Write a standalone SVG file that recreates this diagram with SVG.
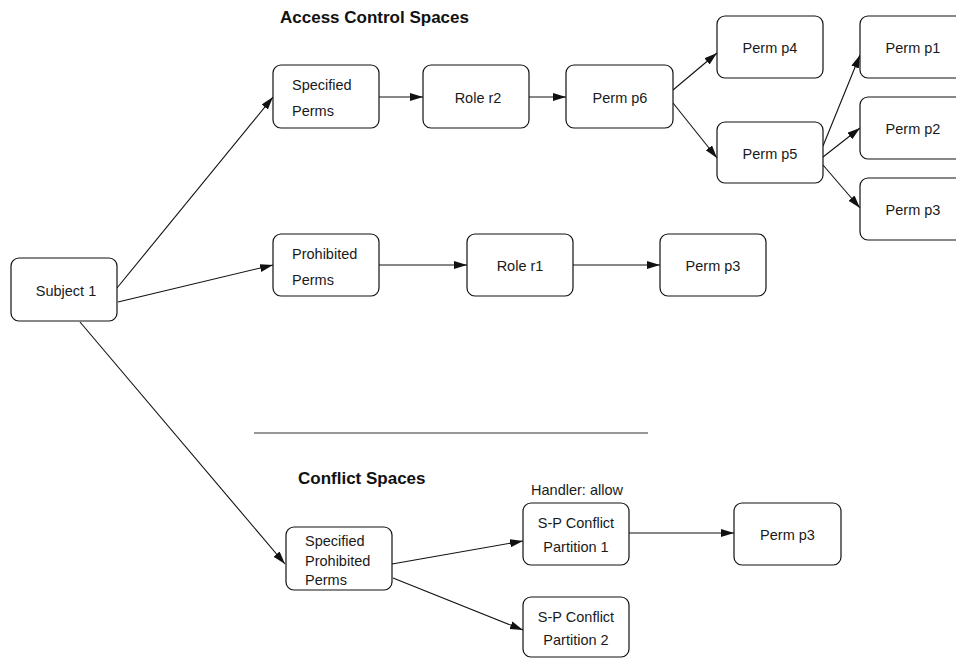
<svg xmlns="http://www.w3.org/2000/svg" width="956" height="658" viewBox="0 0 956 658">
<style>
  .box { fill: #ffffff; stroke: #111111; stroke-width: 1.2; }
  .lbl { font-family: "Liberation Sans", Arial, sans-serif; font-size: 14.5px; fill: #1a1a1a; }
  .c { text-anchor: middle; }
  .title { font-family: "Liberation Sans", Arial, sans-serif; font-size: 17px; font-weight: bold; fill: #111111; }
  .edge { stroke: #111111; stroke-width: 1.1; fill: none; marker-end: url(#arrow); }
</style>
<defs>
  <marker id="arrow" markerUnits="userSpaceOnUse" markerWidth="14" markerHeight="10" refX="13" refY="4" orient="auto">
    <path d="M0,0 L13,4 L0,8 Z" fill="#111111"/>
  </marker>
</defs>
<rect width="956" height="658" fill="#ffffff"/>

<text class="title" x="280" y="23">Access Control Spaces</text>
<line x1="254" y1="433" x2="648" y2="433" stroke="#333333" stroke-width="1.1"/>
<text class="title" x="298" y="484">Conflict Spaces</text>

<g id="connectors">
  <line class="edge" x1="117" y1="288" x2="273" y2="97"/>
  <line class="edge" x1="118" y1="302" x2="273" y2="265"/>
  <line class="edge" x1="80" y1="322" x2="285" y2="564"/>
  <line class="edge" x1="379" y1="97" x2="423" y2="97"/>
  <line class="edge" x1="529" y1="97" x2="566" y2="97"/>
  <line class="edge" x1="673" y1="90" x2="717" y2="53"/>
  <line class="edge" x1="673" y1="103" x2="717" y2="158"/>
  <line class="edge" x1="823" y1="146" x2="860" y2="55"/>
  <line class="edge" x1="823" y1="157" x2="860" y2="128"/>
  <line class="edge" x1="823" y1="165" x2="860" y2="208"/>
  <line class="edge" x1="379" y1="265" x2="467" y2="265"/>
  <line class="edge" x1="573" y1="265" x2="660" y2="265"/>
  <line class="edge" x1="392" y1="564" x2="523" y2="541"/>
  <line class="edge" x1="393" y1="578" x2="523" y2="630"/>
  <line class="edge" x1="629" y1="533" x2="734" y2="533"/>
</g>

<g id="subject1">
  <rect class="box" x="11" y="258" width="106" height="63" rx="8"/>
  <text class="lbl c" x="66" y="296">Subject 1</text>
</g>
<g id="specifiedPerms">
  <rect class="box" x="273" y="65" width="106" height="63" rx="8"/>
  <text class="lbl" x="292" y="90">Specified</text>
  <text class="lbl" x="292" y="116">Perms</text>
</g>
<g id="roleR2">
  <rect class="box" x="423" y="65" width="106" height="63" rx="8"/>
  <text class="lbl c" x="478" y="103">Role r2</text>
</g>
<g id="permP6">
  <rect class="box" x="566" y="65" width="107" height="63" rx="8"/>
  <text class="lbl c" x="620" y="103">Perm p6</text>
</g>
<g id="permP4">
  <rect class="box" x="717" y="16" width="106" height="62" rx="8"/>
  <text class="lbl c" x="770" y="53">Perm p4</text>
</g>
<g id="permP5">
  <rect class="box" x="717" y="122" width="106" height="61" rx="8"/>
  <text class="lbl c" x="770" y="159">Perm p5</text>
</g>
<g id="permP1">
  <rect class="box" x="860" y="16" width="106" height="62" rx="8"/>
  <text class="lbl c" x="913" y="53">Perm p1</text>
</g>
<g id="permP2">
  <rect class="box" x="860" y="97" width="106" height="62" rx="8"/>
  <text class="lbl c" x="913" y="134">Perm p2</text>
</g>
<g id="permP3a">
  <rect class="box" x="860" y="178" width="106" height="62" rx="8"/>
  <text class="lbl c" x="913" y="215">Perm p3</text>
</g>
<g id="prohibitedPerms">
  <rect class="box" x="273" y="234" width="106" height="62" rx="8"/>
  <text class="lbl" x="292" y="259">Prohibited</text>
  <text class="lbl" x="292" y="285">Perms</text>
</g>
<g id="roleR1">
  <rect class="box" x="467" y="234" width="106" height="62" rx="8"/>
  <text class="lbl c" x="520" y="271">Role r1</text>
</g>
<g id="permP3b">
  <rect class="box" x="660" y="234" width="106" height="62" rx="8"/>
  <text class="lbl c" x="713" y="271">Perm p3</text>
</g>
<g id="specifiedProhibitedPerms">
  <rect class="box" x="286" y="527" width="106" height="63" rx="8"/>
  <text class="lbl" x="305" y="546">Specified</text>
  <text class="lbl" x="305" y="566">Prohibited</text>
  <text class="lbl" x="305" y="585">Perms</text>
</g>
<g id="spConflict1">
  <text class="lbl c" x="577" y="495">Handler: allow</text>
  <rect class="box" x="523" y="503" width="106" height="62" rx="8"/>
  <text class="lbl c" x="576" y="528">S-P Conflict</text>
  <text class="lbl c" x="576" y="552">Partition 1</text>
</g>
<g id="spConflict2">
  <rect class="box" x="523" y="597" width="106" height="60" rx="8"/>
  <text class="lbl c" x="576" y="622">S-P Conflict</text>
  <text class="lbl c" x="576" y="645">Partition 2</text>
</g>
<g id="permP3c">
  <rect class="box" x="734" y="503" width="107" height="62" rx="8"/>
  <text class="lbl c" x="787.5" y="540">Perm p3</text>
</g>
</svg>
